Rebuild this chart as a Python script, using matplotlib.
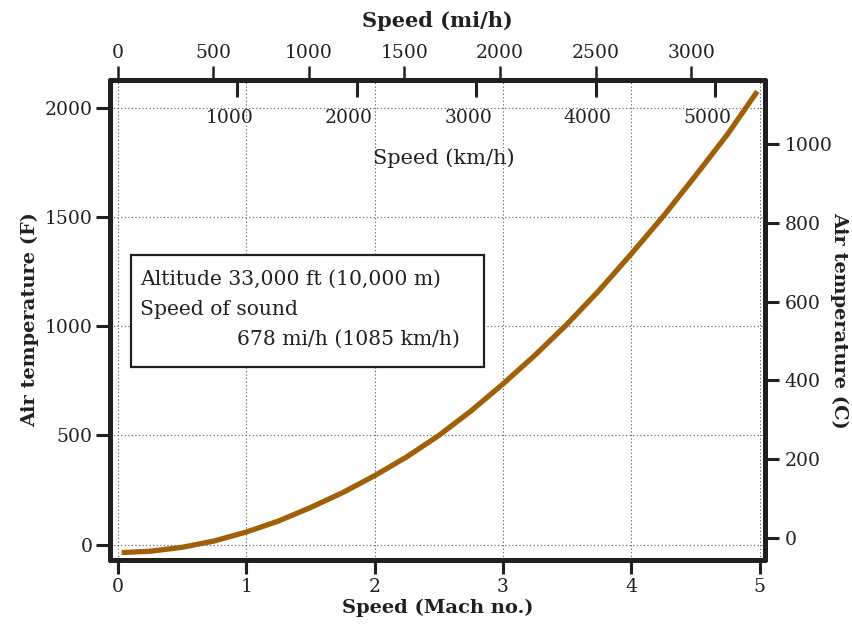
import numpy as np
import matplotlib
matplotlib.use("Agg")
import matplotlib.pyplot as plt
from matplotlib.patches import Rectangle
from matplotlib.transforms import ScaledTranslation

# values
mach = [0.03, 0.25, 0.5, 0.75, 1.0, 1.25, 1.5, 1.75, 2.0, 2.25, 2.5,
        2.75, 3.0, 3.25, 3.5, 3.75, 4.0, 4.25, 4.5, 4.75, 4.98]
temp_f = [-36, -30, -12, 17, 58, 108, 170, 238, 316, 402, 500,
          612, 736, 868, 1010, 1165, 1332, 1505, 1690, 1880, 2075]

mach_ticks = [0, 1, 2, 3, 4, 5]
f_ticks = [0, 500, 1000, 1500, 2000]
c_ticks = [0, 200, 400, 600, 800, 1000]
mph_ticks = [0, 500, 1000, 1500, 2000, 2500, 3000]
kmh_ticks = [1000, 2000, 3000, 4000, 5000]

mph_per_mach = 672.0
kmh_per_mach = 1075.0

box_lines = ["Altitude 33,000 ft (10,000 m)", "Speed of sound", "678 mi/h (1085 km/h)"]

dark = "#231f20"
curve_color = "#a0600a"
plt.rcParams["font.family"] = ["DejaVu Serif"]
plt.rcParams["text.color"] = dark
plt.rcParams["axes.labelcolor"] = dark
plt.rcParams["xtick.color"] = dark
plt.rcParams["ytick.color"] = dark

fig = plt.figure(figsize=(8.53, 6.29), dpi=100)
ax = fig.add_axes([110.5 / 853, 1 - 560 / 629, 654.5 / 853, 480 / 629])

ax.plot(mach, temp_f, color=curve_color, linewidth=3.8, solid_capstyle="butt", zorder=3)

ax.set_xlim(-0.057, 5.04)
ax.set_ylim(-70, 2127)
ax.set_xticks(mach_ticks)
ax.set_yticks(f_ticks)
ax.grid(True, color="#555555", linestyle=(0, (1, 2.2)), linewidth=0.8)

for s in ax.spines.values():
    s.set_linewidth(3.6)
    s.set_color(dark)
    s.set_capstyle("round")

ax.tick_params(axis="both", length=10, width=2.2, labelsize=13.5, pad=3)
ax.set_xlabel("Speed (Mach no.)", fontsize=14, fontweight="bold", labelpad=2)
ax.set_ylabel("Air temperature (F)", fontsize=14, fontweight="bold", labelpad=4)

# right axis in Celsius
ax_c = ax.twinx()
lo, hi = ax.get_ylim()
ax_c.set_ylim((lo - 32) * 5 / 9, (hi - 32) * 5 / 9)
ax_c.set_yticks(c_ticks)
ax_c.tick_params(axis="y", length=10, width=2.2, labelsize=13.5, pad=4)
for s in ax_c.spines.values():
    s.set_visible(False)
ax_c.set_ylabel("Air temperature (C)", fontsize=14, fontweight="bold",
                rotation=-90, va="center", ha="center")
ax_c.yaxis.set_label_coords(1.1135, 0.5)

# top axis in mi/h
sec_mph = ax.secondary_xaxis("top", functions=(lambda m: m * mph_per_mach,
                                                lambda v: v / mph_per_mach))
sec_mph.set_xticks(mph_ticks)
sec_mph.tick_params(length=10, width=1.8, labelsize=13.5, pad=3)
sec_mph.spines["top"].set_visible(False)
sec_mph.set_xlabel("Speed (mi/h)", fontsize=15, fontweight="bold", labelpad=12)

# inner axis in km/h, labels sit a bit left of their ticks
sec_kmh = ax.secondary_xaxis("top", functions=(lambda m: m * kmh_per_mach,
                                                lambda v: v / kmh_per_mach))
sec_kmh.set_xticks(kmh_ticks)
sec_kmh.tick_params(direction="in", length=12, width=2.2, labelsize=13.5, pad=-34)
sec_kmh.spines["top"].set_visible(False)
shift = ScaledTranslation(-8 / 100, 0, fig.dpi_scale_trans)
for lab in sec_kmh.get_xticklabels():
    lab.set_transform(lab.get_transform() + shift)
ax.text(0.509, 0.8375, "Speed (km/h)", transform=ax.transAxes, fontsize=15,
        ha="center", va="center")

# annotation box
ax.add_patch(Rectangle((0.0306, 0.402), 0.5394, 0.233, transform=ax.transAxes,
                       facecolor="white", edgecolor=dark, linewidth=1.6, zorder=4))
ax.text(0.045, 0.585, box_lines[0], transform=ax.transAxes, fontsize=14.6,
        ha="left", va="center", zorder=5)
ax.text(0.045, 0.522, box_lines[1], transform=ax.transAxes, fontsize=14.6,
        ha="left", va="center", zorder=5)
ax.text(0.534, 0.459, box_lines[2], transform=ax.transAxes, fontsize=14.6,
        ha="right", va="center", zorder=5)

fig.savefig("out.png", dpi=100)
